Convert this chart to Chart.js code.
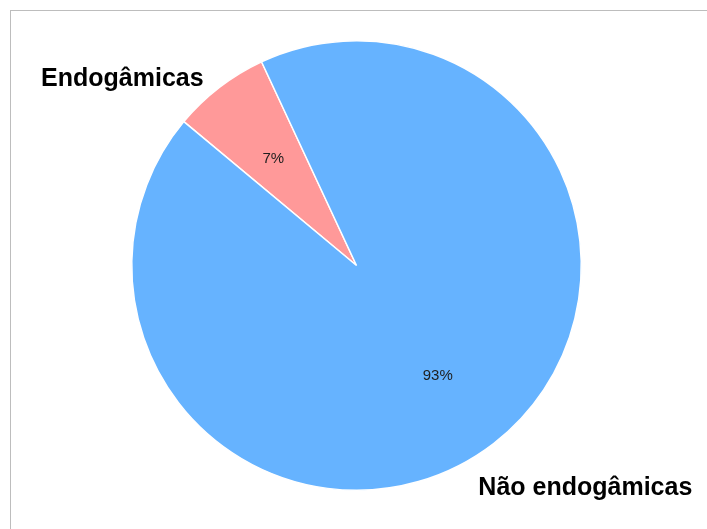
<!DOCTYPE html>
<html>
<head>
<meta charset="utf-8">
<script src="https://cdn.jsdelivr.net/npm/chart.js@4"></script>
<style>
  html, body { margin: 0; padding: 0; background: #fff; }
  #wrap { position: relative; width: 707px; height: 529px; overflow: hidden; }
  /* moldura cinza fina no canto superior esquerdo */
  #frame { position: absolute; left: 10px; top: 10px; width: 800px; height: 600px;
           border-top: 1px solid #bdbdbd; border-left: 1px solid #bdbdbd; }
  #grafico { position: absolute; left: 0; top: 0; }
</style>
</head>
<body>
<div id="wrap">
  <div id="frame"></div>
  <canvas id="grafico" width="707" height="529"></canvas>
</div>
<script>
// Proporção de populações endogâmicas
const categorias = ["Endogâmicas", "Não endogâmicas"];
const percentuais = [7, 93];
const cores = ["#ff9999", "#66b3ff"];

// ajustes finos de posição dos rótulos (px)
const ajusteRotulo = [[-2, 9], [-29, 27]];
const ajustePct = [[-1, 0], [-1, 4]];

// Escreve os percentuais dentro das fatias e os nomes fora delas
const rotulosPizza = {
  id: "rotulosPizza",
  afterDatasetsDraw(chart) {
    const ctx = chart.ctx;
    const arcos = chart.getDatasetMeta(0).data;
    ctx.save();
    arcos.forEach((arco, i) => {
      const p = arco.getProps(["x", "y", "startAngle", "endAngle", "outerRadius"], true);
      const meio = (p.startAngle + p.endAngle) / 2;
      const cx = Math.cos(meio), cy = Math.sin(meio);

      // percentual a 0.6 do raio
      ctx.font = "15px 'Liberation Sans', Arial, sans-serif";
      ctx.fillStyle = "#1e1e1e";
      ctx.textAlign = "center";
      ctx.textBaseline = "middle";
      ctx.fillText(percentuais[i] + "%",
        p.x + cx * p.outerRadius * 0.6 + ajustePct[i][0],
        p.y + cy * p.outerRadius * 0.6 + ajustePct[i][1]);

      // nome da categoria a 1.1 do raio
      ctx.font = "bold 25px 'Liberation Sans', Arial, sans-serif";
      ctx.fillStyle = "#000";
      ctx.textAlign = cx < 0 ? "right" : "left";
      const lx = p.x + cx * p.outerRadius * 1.1 + ajusteRotulo[i][0];
      const ly = p.y + cy * p.outerRadius * 1.1 + ajusteRotulo[i][1];
      ctx.fillText(categorias[i], lx, ly);
    });
    ctx.restore();
  }
};

new Chart(document.getElementById("grafico"), {
  type: "pie",
  data: {
    labels: categorias,
    datasets: [
      {
        data: percentuais,
        backgroundColor: cores,
        borderColor: "#ffffff",
        borderWidth: 1.5,
      },
    ],
  },
  options: {
    responsive: false,
    animation: false,
    rotation: -50.2, // início da fatia menor
    layout: {
      padding: { left: 131, right: 125, top: 40, bottom: 38 }
    },
    plugins: {
      legend: { display: false },
      tooltip: { enabled: false },
    },
  },
  plugins: [rotulosPizza],
});
</script>
</body>
</html>
